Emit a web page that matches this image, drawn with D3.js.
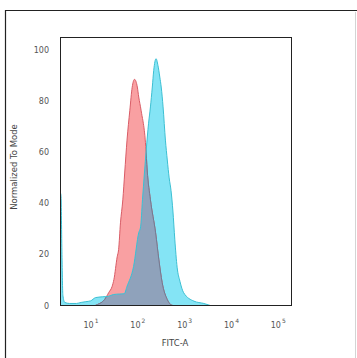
<!DOCTYPE html>
<html>
<head>
<meta charset="utf-8">
<script src="https://cdn.jsdelivr.net/npm/d3@7"></script>
<style>
  html, body { margin: 0; padding: 0; background: #fff; }
  svg { display: block; font-family: "DejaVu Sans", sans-serif; }
  .tick-label { fill: #555; font-size: 8px; }
  .axis-title { fill: #444; font-size: 8.5px; }
</style>
</head>
<body>
<div id="chart"></div>
<script>
// 刻度與標籤
const yTicks = [0, 20, 40, 60, 80, 100];
const xDecades = [1, 2, 3, 4, 5];
const xTitle = "FITC-A";
const yTitle = "Normalized To Mode";

// 對照組（紅）：log10 螢光值 與 計數百分比
const ctrlLogX = [1.10, 1.15, 1.30, 1.39, 1.46, 1.50, 1.57, 1.60, 1.64, 1.69, 1.73, 1.78, 1.84, 1.89, 1.94,
                  2.00, 2.03, 2.08, 2.18, 2.21, 2.28, 2.39, 2.46, 2.53, 2.64, 2.71, 2.76];
const ctrlCount = [0, 0.4, 2.3, 5.1, 7.4, 10.2, 19.1, 21.9, 32.4, 41.4, 51.9, 64.8, 76.5, 85.5, 88.6,
                   85.6, 81.7, 76.5, 62.2, 53.1, 41.4, 28.5, 17.9, 9.0, 2.3, 0.4, 0];

// 樣本組（藍）
const sampleLogX = [0.36, 0.37, 0.39, 0.41, 0.45, 0.55, 0.70, 0.80, 0.90, 1.00, 1.11, 1.25, 1.38, 1.49, 1.62, 1.72,
                    1.78, 1.92, 2.03, 2.07, 2.11, 2.19, 2.24, 2.28, 2.32, 2.35, 2.40, 2.44, 2.48, 2.51, 2.55,
                    2.60, 2.64, 2.68, 2.72, 2.76, 2.80, 2.85, 2.91, 2.99, 3.21, 3.42, 3.56];
const sampleCount = [44, 43, 20, 4, 1.2, 0.8, 0.8, 1.2, 1.5, 1.8, 3.1, 3.4, 3.6, 4.3, 4.5, 4.6,
                     7.5, 15.3, 28.5, 30.8, 41.4, 60.9, 71.4, 77.8, 85.6, 92.1, 96.7, 94.1, 89.5, 85.6, 77.8,
                     64.8, 57, 50, 45, 37, 26, 15, 9.5, 5.0, 1.7, 0.8, 0];

const width = 357, height = 358;
const plot = { left: 60.5, right: 291.5, top: 37.5, bottom: 305.5 };
const colors = {
    ctrlFill: "#f9a0a2", ctrlLine: "#d85c66",
    sampleFill: "#84e4f5", sampleLine: "#3cbfd2",
    overlapFill: "#8fa2bb", overlapLine: "#6f7c94"
};

const svg = d3.select("#chart").append("svg")
    .attr("width", width)
    .attr("height", height);

// 外框（圖片被裁切，只剩左、上兩邊）
svg.append("path")
    .attr("d", `M5.5,${height} V10.5 H${width}`)
    .attr("fill", "none")
    .attr("stroke", "#222")
    .attr("stroke-width", 1.2);
svg.append("line")
    .attr("x1", 355.5).attr("x2", 355.5)
    .attr("y1", 12).attr("y2", height)
    .attr("stroke", "#d4d4d4");

const xScale = d3.scaleLog()
    .domain([Math.pow(10, 0.359), Math.pow(10, 5.293)])
    .range([plot.left, plot.right]);

const yScale = d3.scaleLinear()
    .domain([0, 105])
    .range([plot.bottom, plot.top]);

const area = d3.area()
    .x(d => xScale(Math.pow(10, d[0])))
    .y0(yScale(0))
    .y1(d => yScale(d[1]))
    .curve(d3.curveMonotoneX);

const line = d3.line()
    .x(d => xScale(Math.pow(10, d[0])))
    .y(d => yScale(d[1]))
    .curve(d3.curveMonotoneX);

const ctrlData = d3.zip(ctrlLogX, ctrlCount);
const sampleData = d3.zip(sampleLogX, sampleCount);

const defs = svg.append("defs");
defs.append("clipPath")
    .attr("id", "plot-clip")
    .append("rect")
    .attr("x", plot.left)
    .attr("y", plot.top)
    .attr("width", plot.right - plot.left)
    .attr("height", plot.bottom - plot.top);
// 藍色區域作為裁切，用來畫重疊部分
defs.append("clipPath")
    .attr("id", "sample-clip")
    .append("path")
    .attr("d", area(sampleData));

const g = svg.append("g").attr("clip-path", "url(#plot-clip)");

g.append("path").attr("d", area(ctrlData)).attr("fill", colors.ctrlFill);
g.append("path").attr("d", area(sampleData)).attr("fill", colors.sampleFill);
g.append("path").attr("d", line(ctrlData))
    .attr("fill", "none").attr("stroke", colors.ctrlLine).attr("stroke-width", 1);

const overlap = g.append("g").attr("clip-path", "url(#sample-clip)");
overlap.append("path").attr("d", area(ctrlData)).attr("fill", colors.overlapFill);
overlap.append("path").attr("d", line(ctrlData))
    .attr("fill", "none").attr("stroke", colors.overlapLine).attr("stroke-width", 1);

g.append("path").attr("d", line(sampleData))
    .attr("fill", "none").attr("stroke", colors.sampleLine).attr("stroke-width", 1);

// 繪圖區邊框
svg.append("rect")
    .attr("x", plot.left)
    .attr("y", plot.top)
    .attr("width", plot.right - plot.left)
    .attr("height", plot.bottom - plot.top)
    .attr("fill", "none")
    .attr("stroke", "#222")
    .attr("stroke-width", 1);

// Y 軸刻度標籤
svg.selectAll(".y-label")
    .data(yTicks)
    .enter()
    .append("text")
    .attr("class", "tick-label")
    .attr("text-anchor", "end")
    .attr("x", 49)
    .attr("y", d => yScale(d) + 3)
    .text(d => d);

// X 軸刻度標籤（10 的次方）
const xl = svg.selectAll(".x-label")
    .data(xDecades)
    .enter()
    .append("text")
    .attr("class", "tick-label")
    .attr("x", d => xScale(Math.pow(10, d)) - 7)
    .attr("y", 328);
xl.append("tspan").text("10");
xl.append("tspan")
    .attr("dy", -5)
    .attr("dx", 1)
    .style("font-size", "6px")
    .text(d => d);

svg.append("text")
    .attr("class", "axis-title")
    .attr("text-anchor", "middle")
    .attr("x", 175)
    .attr("y", 346)
    .text(xTitle);

svg.append("text")
    .attr("class", "axis-title")
    .attr("text-anchor", "middle")
    .attr("transform", "translate(17,167) rotate(-90)")
    .text(yTitle);
</script>
</body>
</html>
